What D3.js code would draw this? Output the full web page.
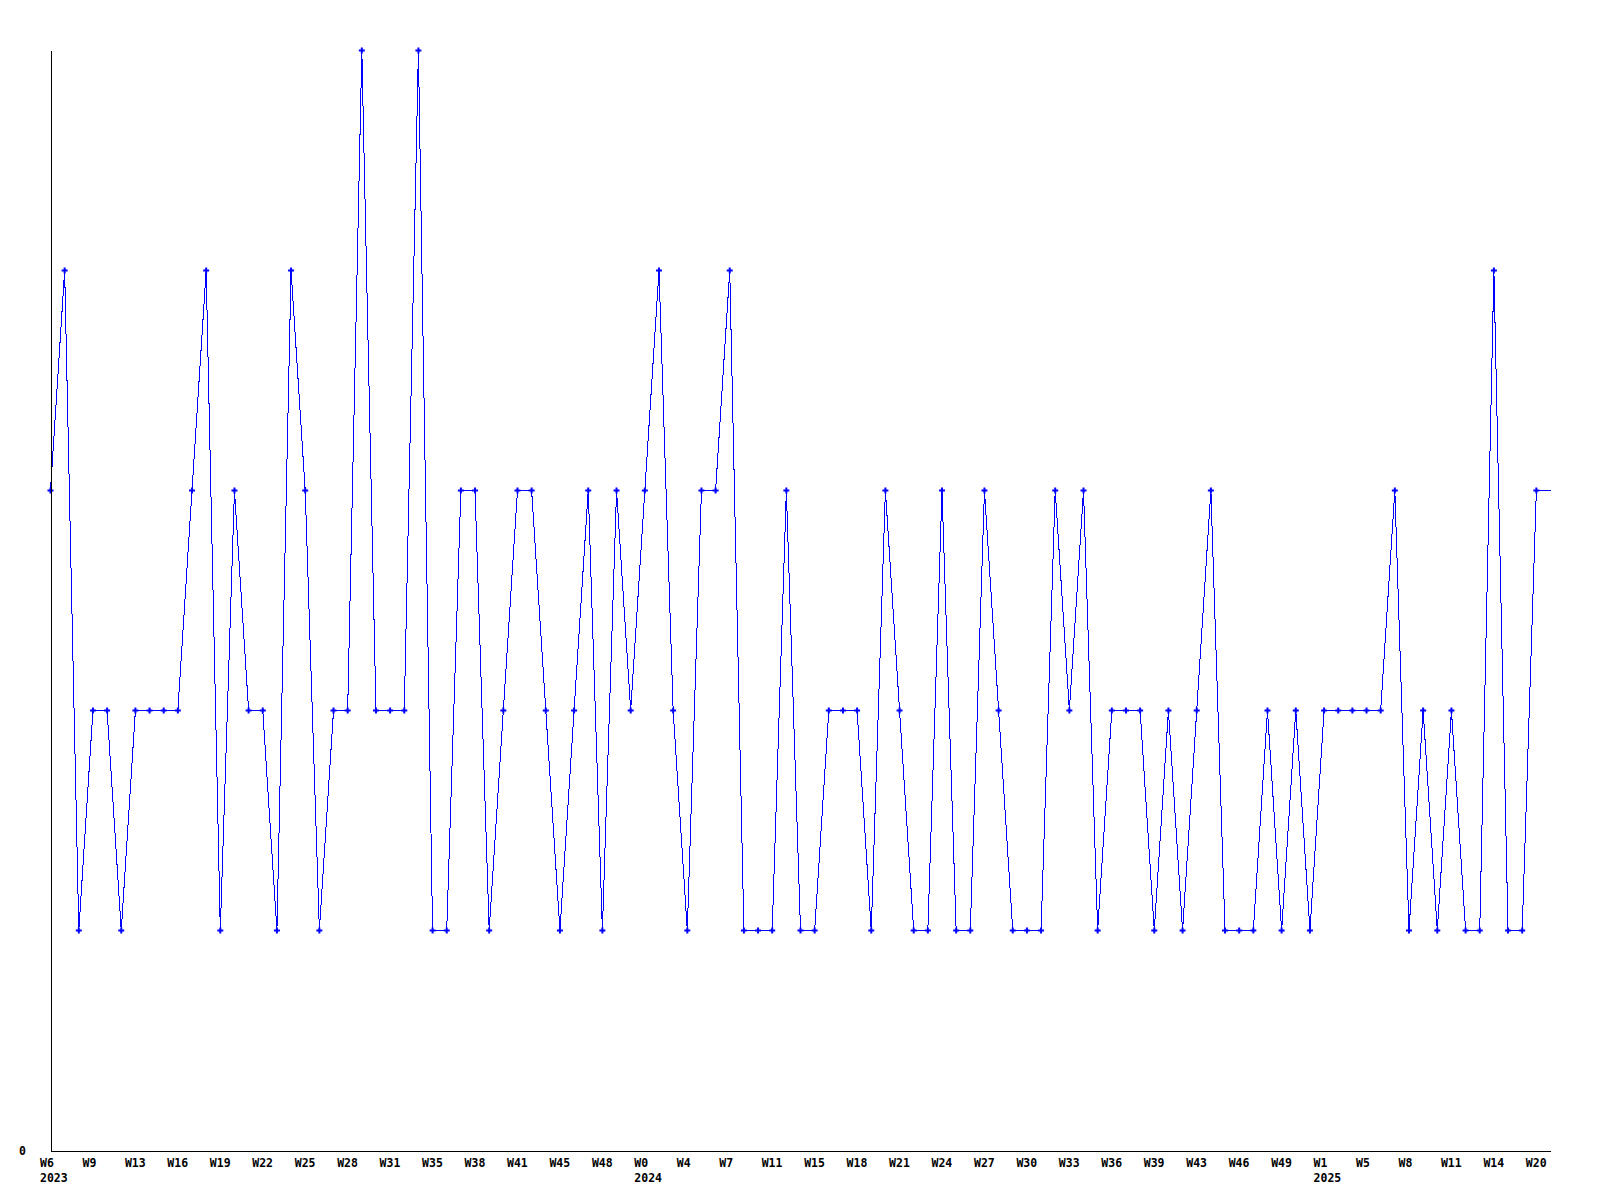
<!DOCTYPE html>
<html>
<head>
<meta charset="utf-8">
<script src="https://cdn.jsdelivr.net/npm/d3@7"></script>
<style>
  html, body { margin: 0; padding: 0; background: #fff; }
  svg { display: block; }
  .lbl { font-family: "DejaVu Sans Mono", "Liberation Mono", monospace; font-weight: bold; font-size: 11.5px; fill: #000; }
</style>
</head>
<body>
<script>
// ---- data ----
const values = [
  3, 4, 1, 2, 2, 1, 2, 2, 2, 2,
  3, 4, 1, 3, 2, 2, 1, 4, 3, 1,
  2, 2, 5, 2, 2, 2, 5, 1, 1, 3,
  3, 1, 2, 3, 3, 2, 1, 2, 3, 1,
  3, 2, 3, 4, 2, 1, 3, 3, 4, 1,
  1, 1, 3, 1, 1, 2, 2, 2, 1, 3,
  2, 1, 1, 3, 1, 1, 3, 2, 1, 1,
  1, 3, 2, 3, 1, 2, 2, 2, 1, 2,
  1, 2, 3, 1, 1, 1, 2, 1, 2, 1,
  2, 2, 2, 2, 2, 3, 1, 2, 1, 2,
  1, 1, 4, 1, 1, 3
];
const weekLabels = [
  "W6", "W9", "W13", "W16", "W19", "W22", "W25", "W28", "W31", "W35", "W38", "W41",
  "W45", "W48", "W0", "W4", "W7", "W11", "W15", "W18", "W21", "W24", "W27", "W30",
  "W33", "W36", "W39", "W43", "W46", "W49", "W1", "W5", "W8", "W11", "W14", "W20"
];
const yearLabels = ["2023", "", "", "", "", "", "", "", "", "", "", "",
  "", "", "2024", "", "", "", "", "", "", "", "", "",
  "", "", "", "", "", "", "2025", "", "", "", "", ""];
const labelStep = 3;
const yTicks = [0];
const yMax = 5;

// ---- layout ----
const W = 1600, H = 1200;
const svg = d3.select("body").append("svg").attr("width", W).attr("height", H);
svg.append("rect").attr("width", W).attr("height", H).attr("fill", "#fff");

const n = values.length; // 106
const x = d3.scaleLinear().domain([0, n]).range([50.5, 1550.5]);
const y = d3.scaleLinear().domain([0, yMax]).range([1150.5, 50.5]);

// line (extends flat to the end of the last slot)
const lineData = values.map((v, i) => [i, v]).concat([[n, values[n - 1]]]);
const line = d3.line().x(d => x(d[0])).y(d => y(d[1]));
svg.append("path")
  .datum(lineData)
  .attr("d", line)
  .attr("fill", "none")
  .attr("stroke", "#0000ff")
  .attr("stroke-width", 1)
  .attr("shape-rendering", "crispEdges");

// markers
const sym = d3.symbol().type(d3.symbolCross).size(20);
svg.append("g").selectAll("path")
  .data(values)
  .join("path")
  .attr("d", sym)
  .attr("transform", (d, i) => `translate(${x(i)},${y(d)})`)
  .attr("fill", "#0000ff");

// y axis
const yAxis = svg.append("g")
  .attr("transform", `translate(${x(0)},0)`)
  .call(d3.axisLeft(y).tickValues(yTicks).tickSize(0).tickSizeOuter(0).tickFormat(d3.format("d")));
yAxis.attr("font-family", null).attr("font-size", null);
yAxis.select(".domain").attr("stroke", "#000").attr("shape-rendering", "crispEdges");
yAxis.selectAll("text")
  .attr("class", "lbl")
  .attr("text-anchor", "middle")
  .attr("x", -28)
  .attr("dy", "0.35em");

// x axis
const tickIdx = d3.range(0, n, labelStep);
const xAxis = svg.append("g")
  .attr("transform", `translate(0,${y(0)})`)
  .call(d3.axisBottom(x).tickValues(tickIdx).tickSize(0).tickSizeOuter(0)
    .tickFormat(i => weekLabels[i / labelStep]));
xAxis.attr("font-family", null).attr("font-size", null);
xAxis.select(".domain").attr("stroke", "#000").attr("shape-rendering", "crispEdges");
xAxis.selectAll(".tick text")
  .attr("class", "lbl")
  .attr("text-anchor", "start")
  .attr("x", -11)
  .attr("y", 16)
  .attr("dy", null);
xAxis.selectAll(".tick").each(function(i) {
  const yr = yearLabels[i / labelStep];
  if (yr) {
    d3.select(this).append("text")
      .attr("class", "lbl")
      .attr("text-anchor", "start")
      .attr("x", -11)
      .attr("y", 31.5)
      .text(yr);
  }
});
</script>
</body>
</html>
